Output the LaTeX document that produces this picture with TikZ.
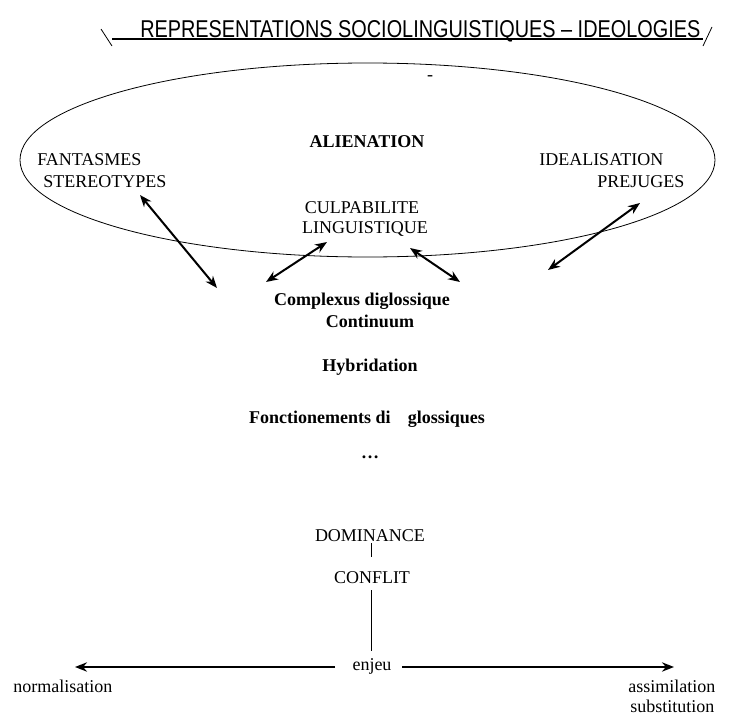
\documentclass[tikz,border=0pt]{standalone}
\usepackage{fontspec}
\setmainfont{Liberation Serif}
\newfontfamily\titlefont{Liberation Sans}
\usetikzlibrary{arrows.meta,shapes.geometric}
\begin{document}
\begin{tikzpicture}[x=0.75pt,y=-0.75pt,
  lbl/.style={inner sep=0pt, font=\fontsize{13.5}{16}\selectfont},
  blbl/.style={inner sep=0pt, font=\fontsize{13.5}{16}\selectfont\bfseries},
  dbl/.style={line width=1.5pt, {Stealth[length=9pt,width=7pt]}-{Stealth[length=9pt,width=7pt]}},
  sgl/.style={line width=1.5pt, -{Stealth[length=9pt,width=7pt]}},
  thinline/.style={line width=0.6pt}]
\useasboundingbox (0,0) rectangle (744,714);

% title
\node[inner sep=0pt, anchor=base west] (title) at (140,37)
  {\resizebox{420pt}{12.75pt}{\titlefont REPRESENTATIONS SOCIOLINGUISTIQUES – IDEOLOGIES}};
\coordinate (ulA) at (112,39); \coordinate (ulB) at (703,39);
\draw[line width=0.8pt] (ulA) -- (ulB);
\coordinate (bsA) at (101,29); \coordinate (bsB) at (112,46);
\draw[thinline] (bsA) -- (bsB);
\coordinate (slA) at (703,46); \coordinate (slB) at (712,27);
\draw[thinline] (slA) -- (slB);

% ellipse
\node[draw, ellipse, line width=0.6pt, minimum width=521.25pt, minimum height=145.5pt, inner sep=0pt] (ell) at (367.5,160) {};
\node[lbl, anchor=base] (dash) at (430,80) {-};

% labels inside ellipse
\node[blbl, anchor=base] (alien) at (367,147) {ALIENATION};
\node[lbl, anchor=base west] (fant) at (37,165) {FANTASMES};
\node[lbl, anchor=base west] (stereo) at (43,187) {STEREOTYPES};
\node[lbl, anchor=base west] (ideal) at (539,165) {IDEALISATION};
\node[lbl, anchor=base west] (prej) at (597,187) {PREJUGES};
\node[lbl, anchor=base] (culp) at (362,213) {CULPABILITE};
\node[lbl, anchor=base] (ling) at (365,233) {LINGUISTIQUE};

% centre labels
\node[blbl, anchor=base] (complex) at (362,305) {Complexus diglossique};
\node[blbl, anchor=base] (contin) at (370,327) {Continuum};
\node[blbl, anchor=base] (hybr) at (370,371) {Hybridation};
\node[blbl, anchor=base] (fonct) at (367,423) {Fonctionements di\hspace{13pt}glossiques};
\node[blbl, anchor=base] (dots) at (370,458) {\ldots};

% arrows
\coordinate (a1s) at (140,195); \coordinate (a1e) at (217,288);
\coordinate (a2s) at (327,242); \coordinate (a2e) at (266,282);
\coordinate (a3s) at (410,248); \coordinate (a3e) at (460,282);
\coordinate (a4s) at (640,203); \coordinate (a4e) at (548,270);
\draw[dbl] (a1s) -- (a1e);
\draw[dbl] (a2s) -- (a2e);
\draw[dbl] (a3s) -- (a3e);
\draw[dbl] (a4s) -- (a4e);

% lower part
\node[lbl, anchor=base] (dom) at (370,541) {DOMINANCE};
\node[lbl, anchor=base] (conf) at (372,583) {CONFLIT};
\node[lbl, anchor=base] (enjeu) at (372,670) {enjeu};
\coordinate (v1a) at (371,543); \coordinate (v1b) at (371,557);
\coordinate (v2a) at (371,590); \coordinate (v2b) at (371,651);
\draw[thinline] (v1a) -- (v1b);
\draw[thinline] (v2a) -- (v2b);

\coordinate (hL) at (335,667); \coordinate (hLend) at (75,667);
\coordinate (hR) at (402,667); \coordinate (hRend) at (674,667);
\draw[sgl] (hL) -- (hLend);
\draw[sgl] (hR) -- (hRend);

\node[lbl, anchor=base west] (norm) at (13,692) {normalisation};
\node[lbl, anchor=base west] (assim) at (628,692) {assimilation};
\node[lbl, anchor=base west] (subst) at (630,712) {substitution};
\end{tikzpicture}
\end{document}
